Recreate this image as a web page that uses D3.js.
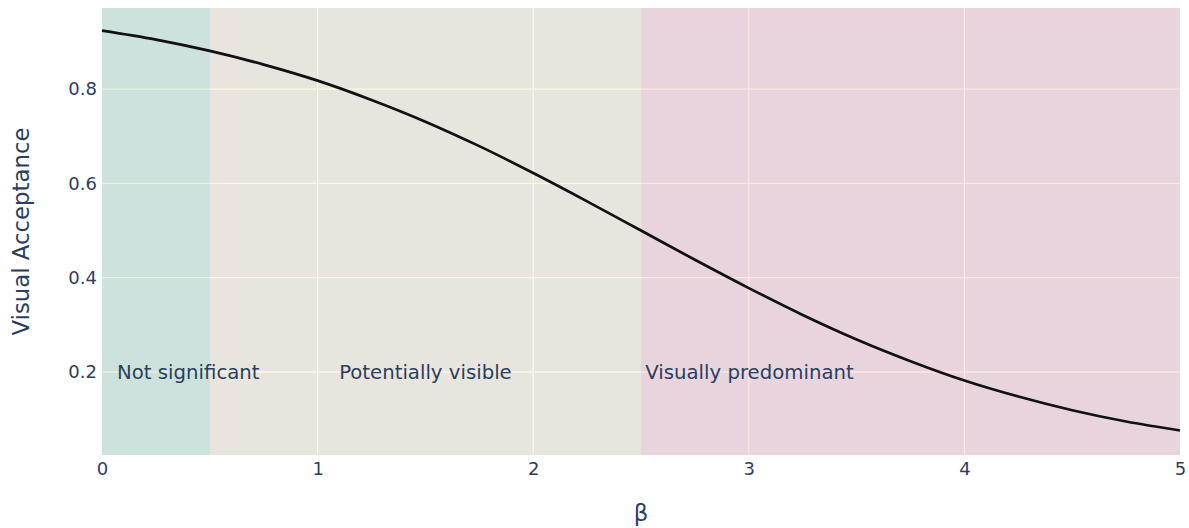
<!DOCTYPE html>
<html><head><meta charset="utf-8">
<script src="https://cdn.jsdelivr.net/npm/d3@7"></script>
<style>body{margin:0;background:#fff}svg{display:block}text{font-family:"DejaVu Sans",sans-serif}</style>
</head><body><svg id="c" width="1189" height="528"></svg>
<script>
const betaValues = [0,0.25,0.5,0.75,1,1.25,1.5,1.75,2,2.25,2.5,2.75,3,3.25,3.5,3.75,4,4.25,4.5,4.75,5];
const acceptance = [0.924,0.905,0.881,0.852,0.818,0.777,0.731,0.679,0.622,0.562,0.5,0.438,0.378,0.321,0.269,0.223,0.182,0.148,0.119,0.095,0.076];
const regionStarts = [0,0.5,2.5];
const regionEnds = [0.5,2.5,5];
const regionColors = ["green","orange","red"];
const regionLabels = ["Not significant","Potentially visible","Visually predominant"];
const labelX = [0.07,1.1,2.52];
const labelY = 0.2;
const xTicks = [0,1,2,3,4,5];
const yTicks = [0.2,0.4,0.6,0.8];

const svg = d3.select("#c");
const L=102,R=1180,T=8,B=455;
const x = d3.scaleLinear().domain([0,5]).range([L,R]);
const y = d3.scaleLinear().domain([0.024,0.972]).range([B,T]);
const txt="#2a3f5f";
const ff="'DejaVu Sans',sans-serif";

svg.append("rect").attr("x",L).attr("y",T).attr("width",R-L).attr("height",B-T).attr("fill","#E5ECF6");
// grid
svg.append("g").selectAll("line").data(xTicks.slice(1,-1)).join("line")
 .attr("x1",d=>x(d)).attr("x2",d=>x(d)).attr("y1",T).attr("y2",B).attr("stroke","#fff").attr("stroke-width",1.3);
svg.append("g").selectAll("line").data(yTicks).join("line")
 .attr("y1",d=>y(d)).attr("y2",d=>y(d)).attr("x1",L).attr("x2",R).attr("stroke","#fff").attr("stroke-width",1.3);
// regions
svg.append("g").selectAll("rect").data(regionStarts).join("rect")
 .attr("x",(d)=>x(d)).attr("width",(d,i)=>x(regionEnds[i])-x(d))
 .attr("y",T).attr("height",B-T).attr("fill",(d,i)=>regionColors[i]).attr("fill-opacity",0.1);
// line
svg.append("path").datum(betaValues.map((b,i)=>[b,acceptance[i]]))
 .attr("d",d3.line().x(d=>x(d[0])).y(d=>y(d[1])).curve(d3.curveMonotoneX))
 .attr("fill","none").attr("stroke","#111").attr("stroke-width",2.7);
// annotations
svg.append("g").selectAll("text").data(regionLabels).join("text")
 .attr("x",(d,i)=>x(labelX[i])).attr("y",y(labelY)).attr("dy","0.35em")
 .attr("font-size",19.7).attr("fill",txt).text(d=>d);
// axes labels
const xa = d3.axisBottom(x).tickValues(xTicks).tickSize(0).tickFormat(d3.format("d"));
const gx = svg.append("g").attr("transform",`translate(0,${B})`).call(xa);
gx.select(".domain").remove();
gx.selectAll("text").attr("font-size",18).attr("fill",txt).attr("dy","0.71em").attr("y",7).style("font-family",ff);
const ya = d3.axisLeft(y).tickValues(yTicks).tickSize(0).tickFormat(d3.format(".1f"));
const gy = svg.append("g").attr("transform",`translate(${L},0)`).call(ya);
gy.select(".domain").remove();
gy.selectAll("text").attr("font-size",18).attr("fill",txt).attr("x",-5).style("font-family",ff);
svg.append("text").attr("x",(L+R)/2).attr("y",513).attr("dy","0.35em").attr("text-anchor","middle").attr("font-size",22.8).attr("fill",txt).text("β");
svg.append("text").attr("transform",`translate(21,${(T+B)/2}) rotate(-90)`).attr("dy","0.35em").attr("text-anchor","middle").attr("font-size",22.8).attr("fill",txt).text("Visual Acceptance");
</script></body></html>
